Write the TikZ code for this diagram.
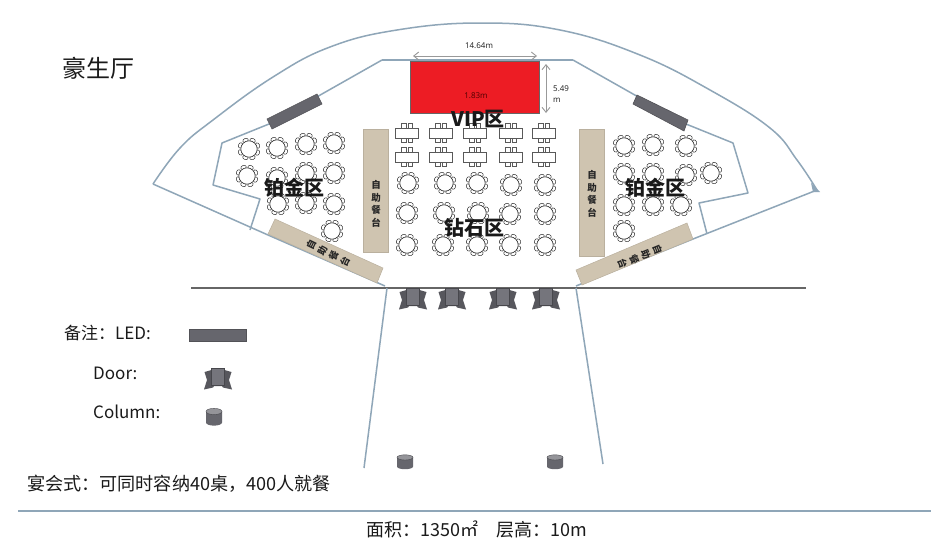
\documentclass[tikz,border=0pt]{standalone}
\usepackage{fontspec}
\setmainfont{Noto Sans CJK SC}
\newfontfamily\latinf{Open Sans}
\usetikzlibrary{arrows.meta}
\definecolor{wallc}{HTML}{8FA6B8}
\definecolor{ledc}{HTML}{66666D}
\definecolor{barc}{HTML}{CFC4B0}
\definecolor{redc}{HTML}{ED1C24}
\definecolor{inkc}{HTML}{1A1A1A}
\tikzset{
  wall/.style={draw=wallc,line width=1.5pt,line join=round},
  ledbar/.style={fill=ledc,draw=ledc!80!black,line width=.6pt},
  buffet/.style={fill=barc,draw=barc!90!black,line width=.5pt},
  dimarrow/.style={draw=gray!80,line width=.9pt,{Straight Barb[length=5pt,width=8pt]}-{Straight Barb[length=5pt,width=8pt]}},
  zone/.style={font=\fontsize{20}{22}\selectfont\bfseries,text=black!90,inner sep=0pt},
  smalltxt/.style={font=\latinf\fontsize{8}{11}\selectfont,text=inkc,inner sep=0pt,align=center},
  bartxt/.style={font=\fontsize{9.5}{12.5}\selectfont\bfseries,text=black!85,inner sep=0pt,align=center},
  legendtxt/.style={font=\fontsize{17}{19}\selectfont,text=inkc,inner sep=0pt,anchor=west},
  roundt/.pic={
    \foreach \a in {0,45,...,315}
      \draw[fill=white,draw=black!80,line width=.5pt,rotate=\a+22] (9.3,0) ellipse (2 and 2.8);
    \draw[fill=white,draw=black!85,line width=.6pt] (0,0) circle (8.2);
  },
  rectt/.pic={
    \foreach \sx in {-5.4,1} {
      \draw[fill=white,draw=black!65,line width=.9pt] (\sx,-9.4) rectangle ++(4.6,4.6);
      \draw[fill=white,draw=black!65,line width=.9pt] (\sx,4.8) rectangle ++(4.6,4.6);
    }
    \draw[fill=white,draw=black!65,line width=1pt] (-11.5,-5) rectangle (11.5,5);
  },
  doorp/.pic={
    \fill[ledc!85!black] (-13.5,-7) -- (-6.5,-9) -- (-6.5,-11) -- (6.5,-11) -- (6.5,-9) -- (13.5,-7) -- (11,1) -- (14,10.5) -- (5,8.5) -- (4,7) -- (-4,7) -- (-5,8.5) -- (-14,10.5) -- (-11,1) -- cycle;
    \fill[ledc!90!white] (-6.5,-11) rectangle (6.5,6);
    \draw[ledc!70!black,line width=.4pt] (-6.5,-11) rectangle (6.5,6);
  },
  columnp/.pic={
    \fill[ledc] (-8,-4.6) -- (-8,4.6) arc[start angle=180,end angle=0,x radius=8,y radius=2.6] -- (8,-4.6) -- cycle;
    \fill[ledc!70!white,draw=ledc!70!black,line width=.4pt] (0,-4.6) ellipse (8 and 2.6);
  }
}
\begin{document}
\begin{tikzpicture}[x=1pt,y=-1pt]
\useasboundingbox (0,0) rectangle (931,546);
\fill[white] (0,0) rectangle (931,546);
% outer arc
\draw[wall] plot[smooth,tension=.7] coordinates {(153,184) (180,148) (213,120) (273,77) (330,47) (397,30) (480,23) (560,30) (640,55) (710,90) (770,128) (797,160) (817,190)};
% lower outer walls
\draw[wall] (153,184) -- (268,235) -- (385,286);
\draw[wall] (576,286) -- (693,239) -- (817,190);
\fill[wallc] (811,183) -- (820,192) -- (813,192) -- cycle;
% inner walls
\draw[wall,line width=2.2pt] (382,60) -- (573,60);
\draw[wall] (382,60) -- (269,124) -- (222,143) -- (213,185) -- (260,199) -- (250,230);
\draw[wall] (573,60) -- (686,124) -- (733,143) -- (748,193) -- (699,203) -- (707,234);
% entrance
\draw[draw=black!60,line width=1.5pt] (191,288) -- (806,288);
\draw[wall] (387,288) -- (364,468);
\draw[wall] (576,288) -- (603,464);
\draw[wall] (18,511) -- (931,511);
% LED
\draw[ledbar] (267,119) -- (317,94) -- (322,104) -- (272,129) -- cycle;
\draw[ledbar] (637,95) -- (688,120) -- (684,131) -- (633,104) -- cycle;
\draw[ledbar] (189,329) rectangle (246,341);
% stage
\draw[fill=redc,draw=black!60,line width=.7pt] (410,61) rectangle (539,113);
\coordinate (dimwl) at (413,56); \coordinate (dimwr) at (537,56);
\coordinate (dimht) at (546,64); \coordinate (dimhb) at (546,113);
\draw[dimarrow] (dimwl) -- (dimwr);
\draw[dimarrow] (dimht) -- (dimhb);
\node[smalltxt] (dimw) at (479,46) {14.64m};
\node[smalltxt,text=black!70!red] (dimd) at (476,96) {1.83m};
\node[smalltxt,anchor=west,align=left] (dimh) at (553,94) {5.49\\m};
% buffets
\draw[buffet] (363,129) rectangle (388,252);
\draw[buffet] (579,129) rectangle (604,256);
\draw[buffet] (275,219) -- (383,268) -- (377,283) -- (268,234) -- cycle;
\draw[buffet] (576,270) -- (687,223) -- (693,239) -- (582,285) -- cycle;
\node[bartxt] (bufl) at (376,204) {自\\助\\餐\\台};
\node[bartxt] (bufr) at (592,194) {自\\助\\餐\\台};
\node[bartxt,rotate=64] (bufla) at (328,253) {自\\助\\餐\\台};
\node[bartxt,rotate=-68] (bufra) at (640,257) {自\\助\\餐\\台};
% rect tables
\foreach \y in {133,157} \foreach \x in {407,441,475,511,544}
  \pic at (\x,\y) {rectt};
% round tables
\foreach \x/\y in {249/149,277/148,306/144,334/143,247/176,277/178,306/173,334/173,278/204,306/203,334/204,332/231,
  624/146,653/145,686/146,624/174,653/174,686/175,711/173,624/205,653/205,681/205,624/231,
  408/183,445/183,477/183,511/185,545/185,407/213,444/213,478/213,510/214,545/214,407/245,443/245,477/245,510/245,545/245}
  \pic at (\x,\y) {roundt};
% doors
\foreach \x in {413,452,503,546} \pic at (\x,299) {doorp};
\pic at (218,379) {doorp};
% columns
\pic at (405,462) {columnp};
\pic at (555,462) {columnp};
\pic[yscale=1.2] at (214,417) {columnp};
% zone labels
\node[zone] (zl) at (294,188) {铂金区};
\node[zone] (zr) at (655,188) {铂金区};
\node[zone] (zc) at (474,228) {钻石区};
\node[zone] (zv) at (478,119) {VIP区};
% texts
\node[inner sep=0pt,anchor=west,text=inkc,font=\fontsize{24}{26}\selectfont] (title) at (62,68) {豪生厅};
\node[legendtxt] (l1) at (64,333) {备注：LED:};
\node[legendtxt] (l2) at (93,373) {Door:};
\node[legendtxt] (l3) at (93,412) {Column:};
\node[legendtxt,font=\fontsize{18.1}{20}\selectfont] (l4) at (27,484) {宴会式：可同时容纳40桌，400人就餐};
\node[inner sep=0pt,text=inkc,font=\fontsize{18}{20}\selectfont] (foot) at (477,529) {面积：1350㎡\quad 层高：10m};
\end{tikzpicture}
\end{document}
